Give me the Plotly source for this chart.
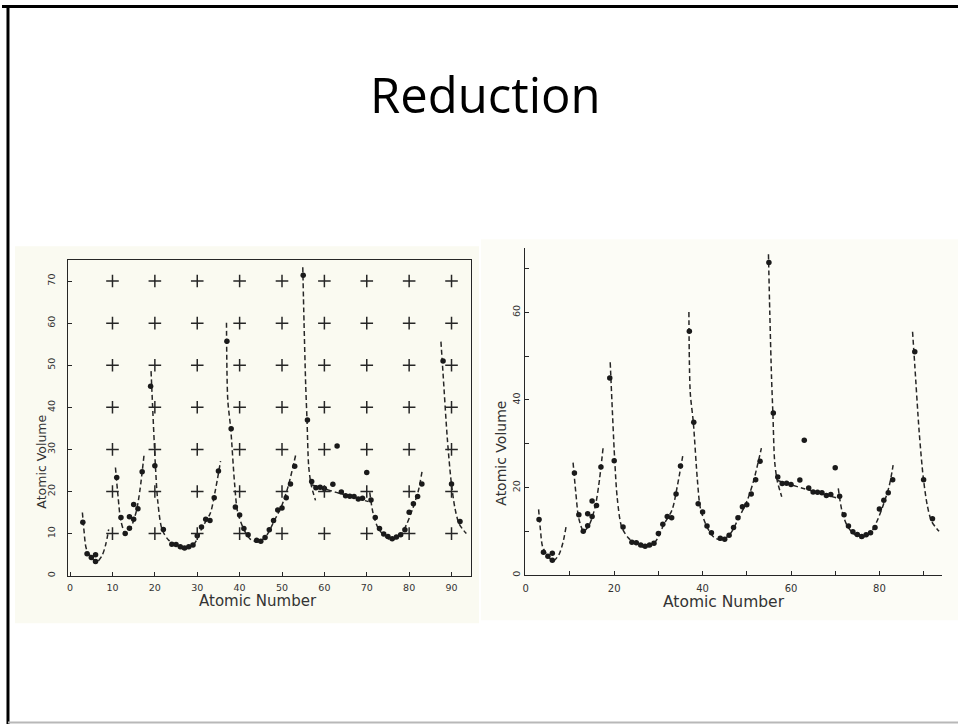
import plotly.graph_objects as go

W, H = 958, 726

# ---------------- data ----------------
atomic_number = [3, 4, 5, 6, 6,
                 11, 12, 13, 14, 14, 15, 15, 16, 17,
                 19, 20, 22, 24, 25, 26, 27, 28, 29, 30, 31, 32, 33, 34, 35,
                 37, 38, 39, 40, 41, 42, 44, 45, 46, 47, 48, 49, 50, 51, 52, 53,
                 55, 56, 57, 58, 59, 60, 62, 63, 64, 65, 66, 67, 68, 69, 70, 71,
                 72, 73, 74, 75, 76, 77, 78, 79, 80, 81, 82, 83,
                 88, 90, 92]
atomic_volume = [12.7, 5.2, 4.3, 5.0, 3.4,
                 23.3, 13.8, 10.0, 11.3, 14.0, 13.4, 16.9, 15.9, 24.7,
                 45.0, 26.1, 11.0, 7.5, 7.4, 6.9, 6.6, 6.9, 7.3, 9.5, 11.6, 13.4, 13.1, 18.5, 24.9,
                 55.7, 34.9, 16.3, 14.4, 11.2, 9.7, 8.4, 8.2, 9.1, 10.9, 13.1, 15.6, 16.1, 18.5, 21.8, 26.0,
                 71.4, 37.0, 22.4, 20.9, 21.0, 20.7, 21.7, 30.8, 19.9, 19.0, 18.9, 18.8, 18.2, 18.4, 24.5, 18.0,
                 13.8, 11.2, 9.9, 9.3, 8.8, 9.2, 9.7, 10.9, 15.1, 17.1, 18.8, 21.8,
                 51.0, 21.8, 12.9]

# dashed trend curves (vertices), one list per period
curve1_x = [2.9, 3.3, 3.8, 4.9, 6.2, 7.5, 8.4, 9.1]
curve1_y = [15.0, 10.5, 6.5, 4.5, 3.2, 4.7, 7.4, 11.0]
curve2_x = [10.7, 11.3, 12.0, 13.1, 14.3, 15.6, 16.5, 17.5]
curve2_y = [25.7, 19.0, 12.9, 10.0, 11.4, 15.2, 20.5, 29.2]
curve3_x = [19.1, 19.3, 20.1, 20.7, 21.7, 23.3, 27.0, 29.3, 31.2, 33.1, 34.2, 35.5]
curve3_y = [48.6, 44.0, 26.6, 17.5, 11.0, 8.4, 6.3, 7.6, 11.5, 14.9, 19.9, 27.2]
curve4_x = [36.9, 37.2, 37.9, 38.8, 39.5, 40.9, 42.5, 44.4, 46.3, 48.1, 50.0, 51.5, 53.3]
curve4_y = [60.1, 41.8, 34.9, 22.0, 15.3, 11.2, 8.7, 8.0, 9.5, 12.9, 16.8, 21.4, 29.0]
curve5a_x = [54.9, 55.2, 55.6, 55.9, 56.3, 56.9, 57.9]
curve5a_y = [73.3, 60.0, 45.0, 37.0, 26.0, 21.5, 17.9]
curve5b_x = [57.0, 59.8, 62.8, 67.3, 70.4]
curve5b_y = [21.6, 20.7, 19.8, 18.5, 17.6]
curve6_x = [70.7, 71.5, 72.6, 74.1, 75.8, 77.9, 79.4, 80.9, 82.2, 83.1]
curve6_y = [19.8, 14.8, 11.5, 9.5, 8.5, 9.5, 12.2, 16.1, 20.3, 25.1]
curve7_x = [87.5, 88.0, 89.0, 89.9, 90.8, 91.8, 93.5]
curve7_y = [55.6, 48.0, 32.7, 22.5, 16.1, 12.3, 10.0]

curves = [(curve1_x, curve1_y), (curve2_x, curve2_y), (curve3_x, curve3_y),
          (curve4_x, curve4_y), (curve5a_x, curve5a_y), (curve5b_x, curve5b_y),
          (curve6_x, curve6_y), (curve7_x, curve7_y)]

# registration crosses of the left (unreduced) chart
cross_x = [10, 20, 30, 40, 50, 60, 70, 80, 90]
cross_y = [10, 20, 30, 40, 50, 60, 70]

# tick labels
left_xticks = [0, 10, 20, 30, 40, 50, 60, 70, 80, 90]
left_yticks = [0, 10, 20, 30, 40, 50, 60, 70]
right_xticks = [0, 10, 20, 30, 40, 50, 60, 70, 80, 90]
right_xlabels = ["0", "", "20", "", "40", "", "60", "", "80", ""]
right_yticks = [0, 10, 20, 30, 40, 50, 60, 70]
right_ylabels = ["0", "", "20", "", "40", "", "60", ""]

# ---------------- helpers ----------------
def fx(px):
    return px / W

def fy(py):
    return 1 - py / H

INK = "#262626"
FONT = "DejaVu Sans"

fig = go.Figure()

for (xa, ya) in [("x", "y"), ("x2", "y2")]:
    for cx, cy in curves:
        fig.add_trace(go.Scatter(
            x=cx, y=cy, mode="lines", xaxis=xa, yaxis=ya,
            line=dict(color=INK, width=1.5, dash="5px,3px", shape="spline", smoothing=0.8),
            hoverinfo="skip", showlegend=False))
    fig.add_trace(go.Scatter(
        x=atomic_number, y=atomic_volume, mode="markers", xaxis=xa, yaxis=ya,
        marker=dict(color="#1a1a1a", size=5.5), showlegend=False))

gx = [x for x in cross_x for _ in cross_y]
gy = [y for _ in cross_x for y in cross_y]
fig.add_trace(go.Scatter(
    x=gx, y=gy, mode="markers", xaxis="x", yaxis="y",
    marker=dict(symbol="cross-thin", size=9, line=dict(color=INK, width=1.5)),
    showlegend=False, hoverinfo="skip"))

tickfont = dict(family=FONT, size=9.5, color="#333")
common = dict(showgrid=False, zeroline=False, showline=True, linecolor=INK,
              ticks="inside", tickcolor=INK, ticklen=4, tickwidth=1)

shapes = [
    # scanned image backgrounds
    dict(type="rect", xref="paper", yref="paper", x0=fx(13), x1=fx(478), y0=fy(625), y1=fy(247),
         fillcolor="#fafaf1", line=dict(width=0), layer="below"),
    dict(type="rect", xref="paper", yref="paper", x0=fx(480), x1=fx(958), y0=fy(622), y1=fy(240),
         fillcolor="#fcfcf6", line=dict(width=0), layer="below"),
    # slide border
    dict(type="line", xref="paper", yref="paper", x0=0, x1=1, y0=fy(6.5), y1=fy(6.5),
         line=dict(color="black", width=3)),
    dict(type="line", xref="paper", yref="paper", x0=fx(6), x1=fx(6), y0=fy(5), y1=fy(726),
         line=dict(color="black", width=3)),
    dict(type="line", xref="paper", yref="paper", x0=fx(6), x1=1, y0=fy(724.5), y1=fy(724.5),
         line=dict(color="#b8b8b8", width=2)),
]

annotations = [
    dict(text="Reduction", xref="paper", yref="paper", x=fx(485), y=fy(94), showarrow=False,
         xanchor="center", yanchor="middle", font=dict(family="Open Sans", size=49, color="black")),
    dict(text="Atomic Number", xref="paper", yref="paper", x=fx(257), y=fy(603), showarrow=False,
         xanchor="center", yanchor="middle", font=dict(family=FONT, size=15, color="#333")),
    dict(text="Atomic Volume", xref="paper", yref="paper", x=fx(40), y=fy(463), showarrow=False,
         textangle=-90, xanchor="center", yanchor="middle", font=dict(family=FONT, size=12.5, color="#333")),
    dict(text="Atomic Number", xref="paper", yref="paper", x=fx(724), y=fy(604), showarrow=False,
         xanchor="center", yanchor="middle", font=dict(family=FONT, size=15.5, color="#333")),
    dict(text="Atomic Volume", xref="paper", yref="paper", x=fx(500), y=fy(454), showarrow=False,
         textangle=-90, xanchor="center", yanchor="middle", font=dict(family=FONT, size=14, color="#333")),
]

fig.update_layout(
    width=W, height=H, autosize=False,
    margin=dict(l=0, r=0, t=0, b=0),
    paper_bgcolor="white", plot_bgcolor="rgba(0,0,0,0)",
    shapes=shapes, annotations=annotations,
    xaxis=dict(domain=[fx(65.7), fx(470)], range=[-0.6, 94.6], anchor="y",
               tickvals=left_xticks, tickfont=tickfont, mirror=True, linewidth=1.3,
               ticklabelstandoff=3, **common),
    yaxis=dict(domain=[fy(577.3), fy(260.7)], range=[0, 75], anchor="x",
               tickvals=left_yticks, tickangle=-90, tickfont=tickfont, mirror=True, linewidth=1.3,
               ticklabelstandoff=8, **common),
    xaxis2=dict(domain=[fx(524), fx(941.7)], range=[-0.2, 94.1], anchor="y2",
                tickvals=right_xticks, ticktext=right_xlabels,
                tickfont=dict(family=FONT, size=10, color="#333"), linewidth=1.2,
                ticklabelstandoff=4, **common),
    yaxis2=dict(domain=[fy(576.7), fy(248.3)], range=[0, 74.8], anchor="x2",
                tickvals=right_yticks, ticktext=right_ylabels, tickangle=-90,
                tickfont=tickfont, linewidth=1.2, **common),
)

fig.write_html("out.html", config={"displayModeBar": False},
               post_script="document.body.style.margin='0px';")
